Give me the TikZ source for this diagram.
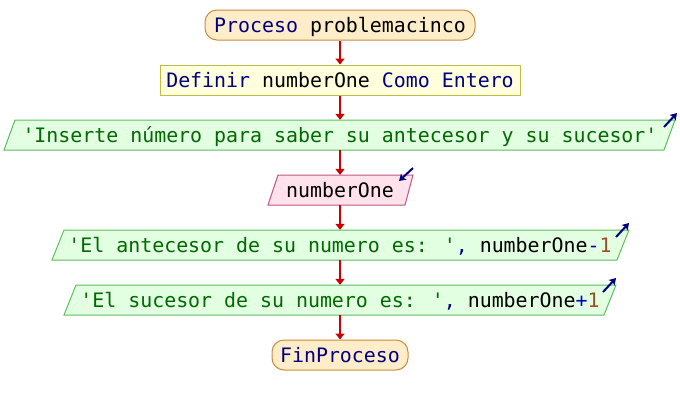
\documentclass[tikz,border=0pt]{standalone}
\usepackage{fontspec}
\newfontfamily\psefont{DejaVu Sans Mono}
\usetikzlibrary{arrows.meta}

% palette
\definecolor{kw}{RGB}{0,0,128}
\definecolor{strc}{RGB}{0,105,0}
\definecolor{numc}{RGB}{150,80,40}
\definecolor{opc}{RGB}{0,0,200}
\definecolor{flow}{RGB}{204,0,0}
\definecolor{startfill}{RGB}{255,236,200}
\definecolor{startline}{RGB}{200,140,60}
\definecolor{deffill}{RGB}{255,255,222}
\definecolor{defline}{RGB}{190,190,70}
\definecolor{outfill}{RGB}{226,255,226}
\definecolor{outline}{RGB}{90,190,90}
\definecolor{infill}{RGB}{255,226,236}
\definecolor{inline}{RGB}{195,85,135}

\tikzset{
  txt/.style={font=\psefont\fontsize{19.9}{20}\selectfont,
    text height=14.4pt, text depth=0pt, inner sep=0pt, minimum height=30pt},
  terminal/.style={txt, draw=startline, fill=startfill, line width=1pt, rounded corners=12pt},
  declbox/.style={txt, draw=defline, fill=deffill, line width=1pt},
  outshape/.style={draw=outline, fill=outfill, line width=1pt},
  inshape/.style={draw=inline, fill=infill, line width=1pt},
  flowarrow/.style={draw=flow, line width=2pt, -{Triangle[width=9pt,length=6pt]}},
  ioicon/.style={draw=kw, line width=2pt, -{Stealth[length=6.5pt,width=8pt,inset=1.5pt]}},
}

% parallelogram: bottom-left x, top-left x, top-right x, bottom-right x, top y, bottom y
\newcommand\pgram[7]{\path[#1] (#2,#7) -- (#3,#6) -- (#4,#6) -- (#5,#7) -- cycle;}

\begin{document}
\begin{tikzpicture}[x=1pt,y=-1pt]
\useasboundingbox (0,0) rectangle (680,405);

% start and declaration
\node[terminal, minimum width=270pt] (start) at (340,25)
  {{\color{kw}Proceso} problemacinco};
\node[declbox, minimum width=360pt] (decl) at (340,80)
  {{\color{kw}Definir} numberOne {\color{kw}Como Entero}};

% prompt output
\pgram{outshape}{4}{15}{675}{664}{120}{150}
\node[txt] (ask) at (340,135)
  {{\color{strc}'Inserte número para saber su antecesor y su sucesor'}};
\draw[ioicon] (664,127) -- (677,113);

% read value
\pgram{inshape}{268}{278}{413}{405}{175}{205}
\node[txt] (read) at (340,190) {numberOne};
\draw[ioicon] (413,168) -- (399,181);

% predecessor output
\pgram{outshape}{52}{64}{629}{617}{230}{260}
\node[txt] (prev) at (340,245)
  {{\color{strc}'El antecesor de su numero es: '}{\color{kw},} numberOne{\color{opc}-}{\color{numc}1}};
\draw[ioicon] (616,237) -- (629,223);

% successor output
\pgram{outshape}{64}{76}{616}{604}{285}{315}
\node[txt] (next) at (340,300)
  {{\color{strc}'El sucesor de su numero es: '}{\color{kw},} numberOne{\color{opc}+}{\color{numc}1}};
\draw[ioicon] (603,292) -- (616,278);

% end
\node[terminal, minimum width=136pt] (fin) at (340,355) {{\color{kw}FinProceso}};

% flow
\draw[flowarrow] (start) -- (decl);
\draw[flowarrow] (decl) -- (ask);
\draw[flowarrow] (ask) -- (read);
\draw[flowarrow] (read) -- (prev);
\draw[flowarrow] (prev) -- (next);
\draw[flowarrow] (next) -- (fin);
\end{tikzpicture}
\end{document}
